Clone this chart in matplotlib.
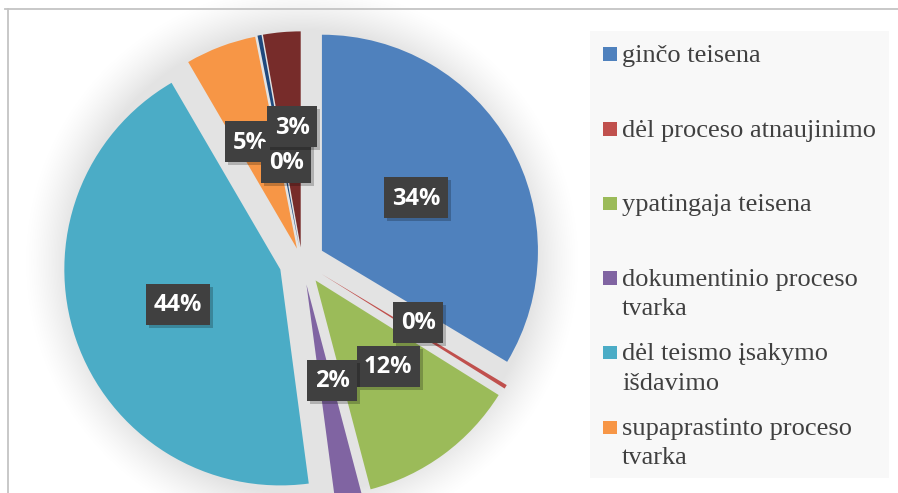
import textwrap
import numpy as np
import matplotlib
matplotlib.use("Agg")
import matplotlib.pyplot as plt
from matplotlib.patches import Rectangle
from matplotlib.lines import Line2D

# data (shares in %)
categories = ["ginčo teisena", "dėl proceso atnaujinimo", "ypatingaja teisena",
              "dokumentinio proceso tvarka", "dėl teismo įsakymo išdavimo",
              "supaprastinto proceso tvarka", "kita (7)", "kita (8)"]
shares = [33.6, 0.3, 12.0, 2.0, 43.7, 5.3, 0.3, 2.8]
colors = ["#4F81BD", "#C0504D", "#9BBB59", "#8064A2", "#4BACC6",
          "#F79646", "#1F497D", "#772C2A"]
legend_count = 6   # the legend box only has room for the first six

explode = [0.106, 0.106, 0.106, 0.106, 0.106, 0.066, 0.068, 0.068]
# label placement: distance from slice apex (in radii) and angle nudge (deg)
label_dist = [0.50, 0.50, 0.52, 0.46, 0.50, 0.54, 0.40, 0.56]
label_nudge = [0, 5, 4, 4, 0, 3, -2, -1]

W, H = 898, 493
CX, CY, R = 302, 262, 216   # pie centre / radius in pixels

fig = plt.figure(figsize=(W / 100, H / 100), dpi=100)
ax = fig.add_axes([0, 0, 1, 1])
x0, x1 = -CX / R, (W - CX) / R
y0, y1 = (CY - H) / R, CY / R

# soft shadow behind the pie
gx, gy = np.meshgrid(np.linspace(x0, x1, W), np.linspace(y0, y1, H))
d = np.hypot(gx, gy)
shade = np.zeros((H, W, 4))
shade[..., 3] = np.clip((1.30 - d) / 0.22, 0, 1) ** 1.4 * 0.11
ax.imshow(shade, extent=(x0, x1, y0, y1), origin="lower", zorder=0)

wedges, _ = ax.pie(shares, colors=colors, startangle=90, counterclock=False,
                   explode=explode, radius=1, wedgeprops=dict(linewidth=0))
for w in wedges:
    w.set_zorder(1)

plt.rcParams["hatch.color"] = "#5a5a5a"
plt.rcParams["hatch.linewidth"] = 1.0
for i, w in enumerate(wedges):
    ang = np.deg2rad((w.theta1 + w.theta2) / 2 + label_nudge[i])
    cx, cy = w.center
    tx = cx + label_dist[i] * np.cos(ang)
    ty = cy + label_dist[i] * np.sin(ang)
    txt = "%d%%" % round(shares[i])
    bw = (50 + 13.5 * (len(txt) - 2)) / R
    bh = 41 / R
    ax.add_patch(Rectangle((tx - bw / 2 + 3 / R, ty - bh / 2 - 3 / R), bw, bh,
                           fc="black", ec="none", alpha=0.22, zorder=5 + 3 * i))
    ax.add_patch(Rectangle((tx - bw / 2, ty - bh / 2), bw, bh, fc="#404040",
                           ec="none", hatch="..", zorder=6 + 3 * i))
    ax.text(tx, ty - 1 / R, txt, ha="center", va="center", fontsize=17,
            fontweight="bold", family="Open Sans", color="white",
            zorder=7 + 3 * i)

ax.set_xlim(x0, x1)
ax.set_ylim(y0, y1)
ax.set_aspect("equal", adjustable="datalim")
ax.axis("off")

# legend, drawn by hand so the square sits on the first line
def fx(px):
    return px / W

def fy(py):
    return 1 - py / H

fig.patches.append(Rectangle((fx(590), fy(478)), 299 / W, 447 / H,
                             transform=fig.transFigure, fc="#f8f8f8", ec="none",
                             zorder=0))
for i in range(legend_count):
    base = 62 + 74.6 * i
    fig.patches.append(Rectangle((fx(603), fy(base - 1)), 14 / W, 13.5 / H,
                                 transform=fig.transFigure, fc=colors[i],
                                 ec="none", zorder=2))
    for j, line in enumerate(textwrap.wrap(categories[i], 23)):
        fig.text(fx(622), fy(base + 29.5 * j), line, family="Liberation Serif",
                 fontsize=19, color="#404040", va="baseline", ha="left")

# chart frame (only top and left edges are inside the crop)
fig.lines.append(Line2D([fx(5), 1], [fy(9), fy(9)], transform=fig.transFigure,
                        color="#c4c4c4", lw=1.3))
fig.lines.append(Line2D([fx(8), fx(8)], [fy(9), 0], transform=fig.transFigure,
                        color="#c4c4c4", lw=1.3))

fig.savefig("out.png", dpi=100, facecolor="white")
